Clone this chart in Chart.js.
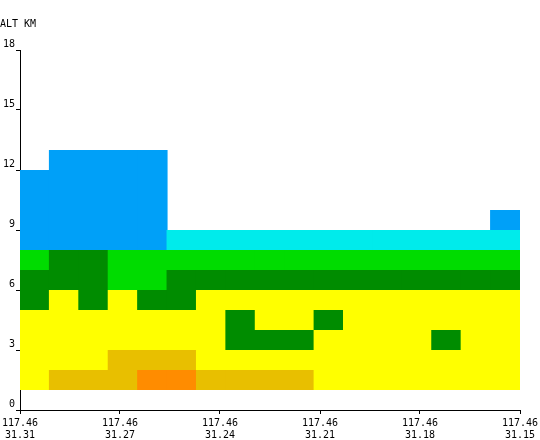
<!DOCTYPE html>
<html><head><meta charset="utf-8">
<script src="https://cdn.jsdelivr.net/npm/chart.js@4/dist/chart.umd.min.js"></script>
<style>html,body{margin:0;padding:0;background:#fff}</style>
</head><body>
<canvas id="c" width="540" height="440"></canvas>
<script>
// x-axis tick labels (lon / lat), placed at column boundaries
const xTickLabels = [['117.46','31.31'],['117.46','31.27'],['117.46','31.24'],['117.46','31.21'],['117.46','31.18'],['117.46','31.15']];
const xTickPositions = [0, 3.4, 6.8, 10.2, 13.6, 17];
const yTickValues = [0, 3, 6, 9, 12, 15, 18];
const columnCount = 17;
// class codes: 0 none, 1 yellow, 2 gold, 3 orange, 4 dark green, 5 green, 6 cyan, 7 blue
const palette = [null, '#FFFF00', '#E8BF00', '#FF8C00', '#008C00', '#00DC00', '#00EBEB', '#00A0F8'];
const layerBottomsKm = [1, 2, 3, 4, 5, 6, 7, 8, 9, 10, 11, 12];
const layer01 = [1,2,2,2,3,3,2,2,2,2,1,1,1,1,1,1,1];
const layer02 = [1,1,1,2,2,2,1,1,1,1,1,1,1,1,1,1,1];
const layer03 = [1,1,1,1,1,1,1,4,4,4,1,1,1,1,4,1,1];
const layer04 = [1,1,1,1,1,1,1,4,1,1,4,1,1,1,1,1,1];
const layer05 = [4,1,4,1,4,4,1,1,1,1,1,1,1,1,1,1,1];
const layer06 = [4,4,4,5,5,4,4,4,4,4,4,4,4,4,4,4,4];
const layer07 = [5,4,4,5,5,5,5,5,5,5,5,5,5,5,5,5,5];
const layer08 = [7,7,7,7,7,6,6,6,6,6,6,6,6,6,6,6,6];
const layer09 = [7,7,7,7,7,0,0,0,0,0,0,0,0,0,0,0,7];
const layer10 = [7,7,7,7,7,0,0,0,0,0,0,0,0,0,0,0,0];
const layer11 = [7,7,7,7,7,0,0,0,0,0,0,0,0,0,0,0,0];
const layer12 = [0,7,7,7,7,0,0,0,0,0,0,0,0,0,0,0,0];
const layers = [layer01,layer02,layer03,layer04,layer05,layer06,layer07,layer08,layer09,layer10,layer11,layer12];

const FONT = {family: "'DejaVu Sans Mono', 'Liberation Mono', monospace", size: 10, weight: 'normal'};

const datasets = layers.map((row, li) => {
  const data = [], colors = [];
  row.forEach((code, i) => {
    if (code) {
      data.push({x: i + 0.5, y: [layerBottomsKm[li], layerBottomsKm[li] + 1]});
      colors.push(palette[code]);
    }
  });
  return {data, backgroundColor: colors, borderWidth: 0, grouped: false,
          barPercentage: 1.035, categoryPercentage: 1, inflateAmount: 0};
});

new Chart(document.getElementById('c'), {
  type: 'bar',
  data: {datasets},
  options: {
    responsive: false,
    animation: false,
    layout: {padding: {left: 0, right: 20, top: 0, bottom: 0}},
    plugins: {
      legend: {display: false},
      tooltip: {enabled: false},
      title: {display: true, text: 'ALT KM', align: 'start', color: '#000', font: FONT,
              padding: {top: 18, bottom: 20}}
    },
    scales: {
      x: {
        type: 'linear', min: 0, max: columnCount, offset: false,
        afterBuildTicks: s => { s.ticks = xTickPositions.map(v => ({value: v})); },
        afterFit: s => { s.height = 30; s.paddingLeft = 0; s.paddingRight = 0; },
        ticks: {callback: (v, i) => xTickLabels[i], autoSkip: false, maxRotation: 0,
                color: '#000', font: FONT, padding: 3},
        grid: {display: true, drawOnChartArea: false, drawTicks: true, tickLength: 4,
               color: '#000', offset: false},
        border: {display: true, color: '#000', width: 1}
      },
      y: {
        type: 'linear', min: 0, max: 18,
        afterBuildTicks: s => { s.ticks = yTickValues.map(v => ({value: v})); },
        afterFit: s => { s.width = 20; s.paddingTop = 0; s.paddingBottom = 0; },
        ticks: {color: '#000', font: FONT, padding: 1, labelOffset: -6},
        grid: {display: true, drawOnChartArea: false, drawTicks: true, tickLength: 4, color: '#000'},
        border: {display: true, color: '#000', width: 1}
      }
    }
  }
});
</script>
</body></html>
